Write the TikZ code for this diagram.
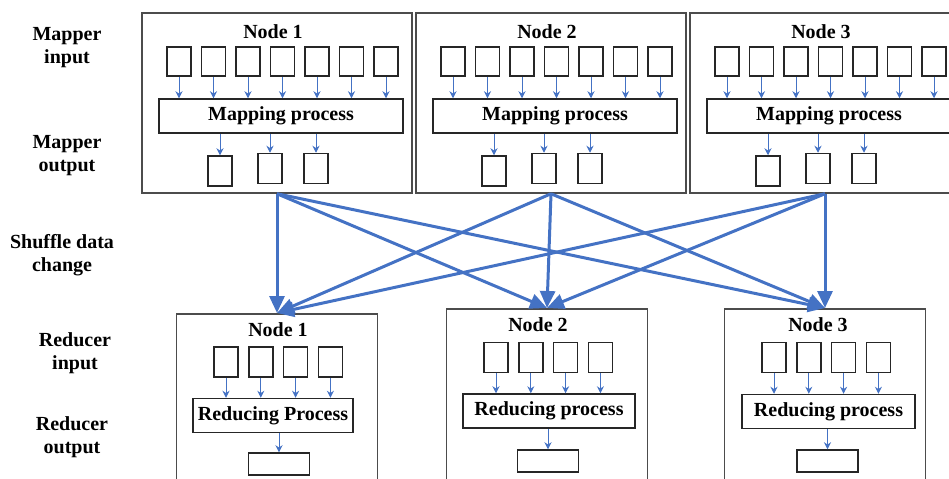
\documentclass[tikz,border=0pt]{standalone}
\usepackage{fontspec}
\setmainfont{Liberation Serif}
\usetikzlibrary{arrows.meta}
\definecolor{arrowblue}{RGB}{68,114,196}

\tikzset{
  nodebox/.style={draw=black!70, line width=0.75pt, minimum width=135pt, minimum height=90pt, inner sep=0pt},
  redbox/.style={draw=black!70, line width=0.75pt, minimum width=100.5pt, minimum height=92pt, inner sep=0pt, anchor=north},
  databox/.style={draw=black!85, line width=0.75pt, minimum width=12pt, minimum height=14.5pt, inner sep=0pt},
  procbox/.style={draw=black!85, line width=0.75pt, minimum height=17pt, inner sep=0pt},
  outbox/.style={draw=black!85, line width=0.75pt, minimum width=30.5pt, minimum height=11pt, inner sep=0pt},
  smallarrow/.style={draw=arrowblue, line width=0.5pt, -{Stealth[length=3.5pt,width=3.5pt]}},
  shufflearrow/.style={draw=arrowblue, line width=1.5pt, -{Triangle[length=8.5pt,width=7.5pt]}},
  sidelabel/.style={align=center}
}

\begin{document}
\begin{tikzpicture}[x=0.5pt,y=-0.5pt,font=\bfseries\fontsize{10}{11.5}\selectfont]
\useasboundingbox (0,0) rectangle (949,478);

% stage labels
\node[sidelabel] (lmapin) at (67,48) {Mapper\\input};
\node[sidelabel] (lmapout) at (67,156) {Mapper\\output};
\node[sidelabel] (lshuffle) at (62,255) {Shuffle data\\change};
\node[sidelabel] (lredin) at (75,353) {Reducer\\input};
\node[sidelabel] (lredout) at (72,437) {Reducer\\output};

% mapper nodes
\foreach \k/\cx in {1/277,2/551,3/825}{
  \node[nodebox] (M\k) at (\cx,103) {};
  \node (M\k title) at (\cx-4,32) {Node \k};
  \node[procbox, minimum width=122pt] (M\k map) at (\cx+4,116) {Mapping process};
  \foreach \i in {0,...,6}{
    \node[databox] (M\k in\i) at ({\cx-98+34.5*\i},61.5) {};
    \draw[smallarrow] (M\k in\i.south) -- (M\k in\i.south |- M\k map.north);
  }
  \foreach \dx/\y [count=\i] in {-57/171,-7/168.5,39/168.5}{
    \node[databox, minimum height=15pt] (M\k out\i) at (\cx+\dx,\y) {};
    \draw[smallarrow] (M\k out\i.north |- M\k map.south) -- (M\k out\i.north);
  }
}

% reducer nodes
\foreach \k/\cx/\ty/\tx/\iy/\px/\py/\pw/\txt/\ox/\oy in
  {1/277/313/278/362/273/415.5/80/Reducing Process/279/464,
   2/547/308/538/357.5/549/411/86/Reducing process/548/461,
   3/825/308/818/357.5/828.5/411.5/86.5/Reducing process/827.5/461}{
  \node[redbox] (R\k) at (\cx,\ty) {};
  \node (R\k title) at (\tx,\ty+17) {Node \k};
  \node[procbox, minimum width=\pw pt] (R\k proc) at (\px,\py) {\txt};
  \foreach \i in {0,...,3}{
    \node[databox, minimum height=15pt] (R\k in\i) at ({\cx-51+34.8*\i},\iy) {};
    \draw[smallarrow] (R\k in\i.south) -- (R\k in\i.south |- R\k proc.north);
  }
  \node[outbox] (R\k out) at (\ox,\oy) {};
  \draw[smallarrow] (R\k out.north |- R\k proc.south) -- (R\k out.north);
}

% shuffle
\foreach \a in {1,2,3}
  \foreach \b in {1,2,3}
    \draw[shufflearrow] (M\a.south) -- (R\b.north);
\end{tikzpicture}
\end{document}
